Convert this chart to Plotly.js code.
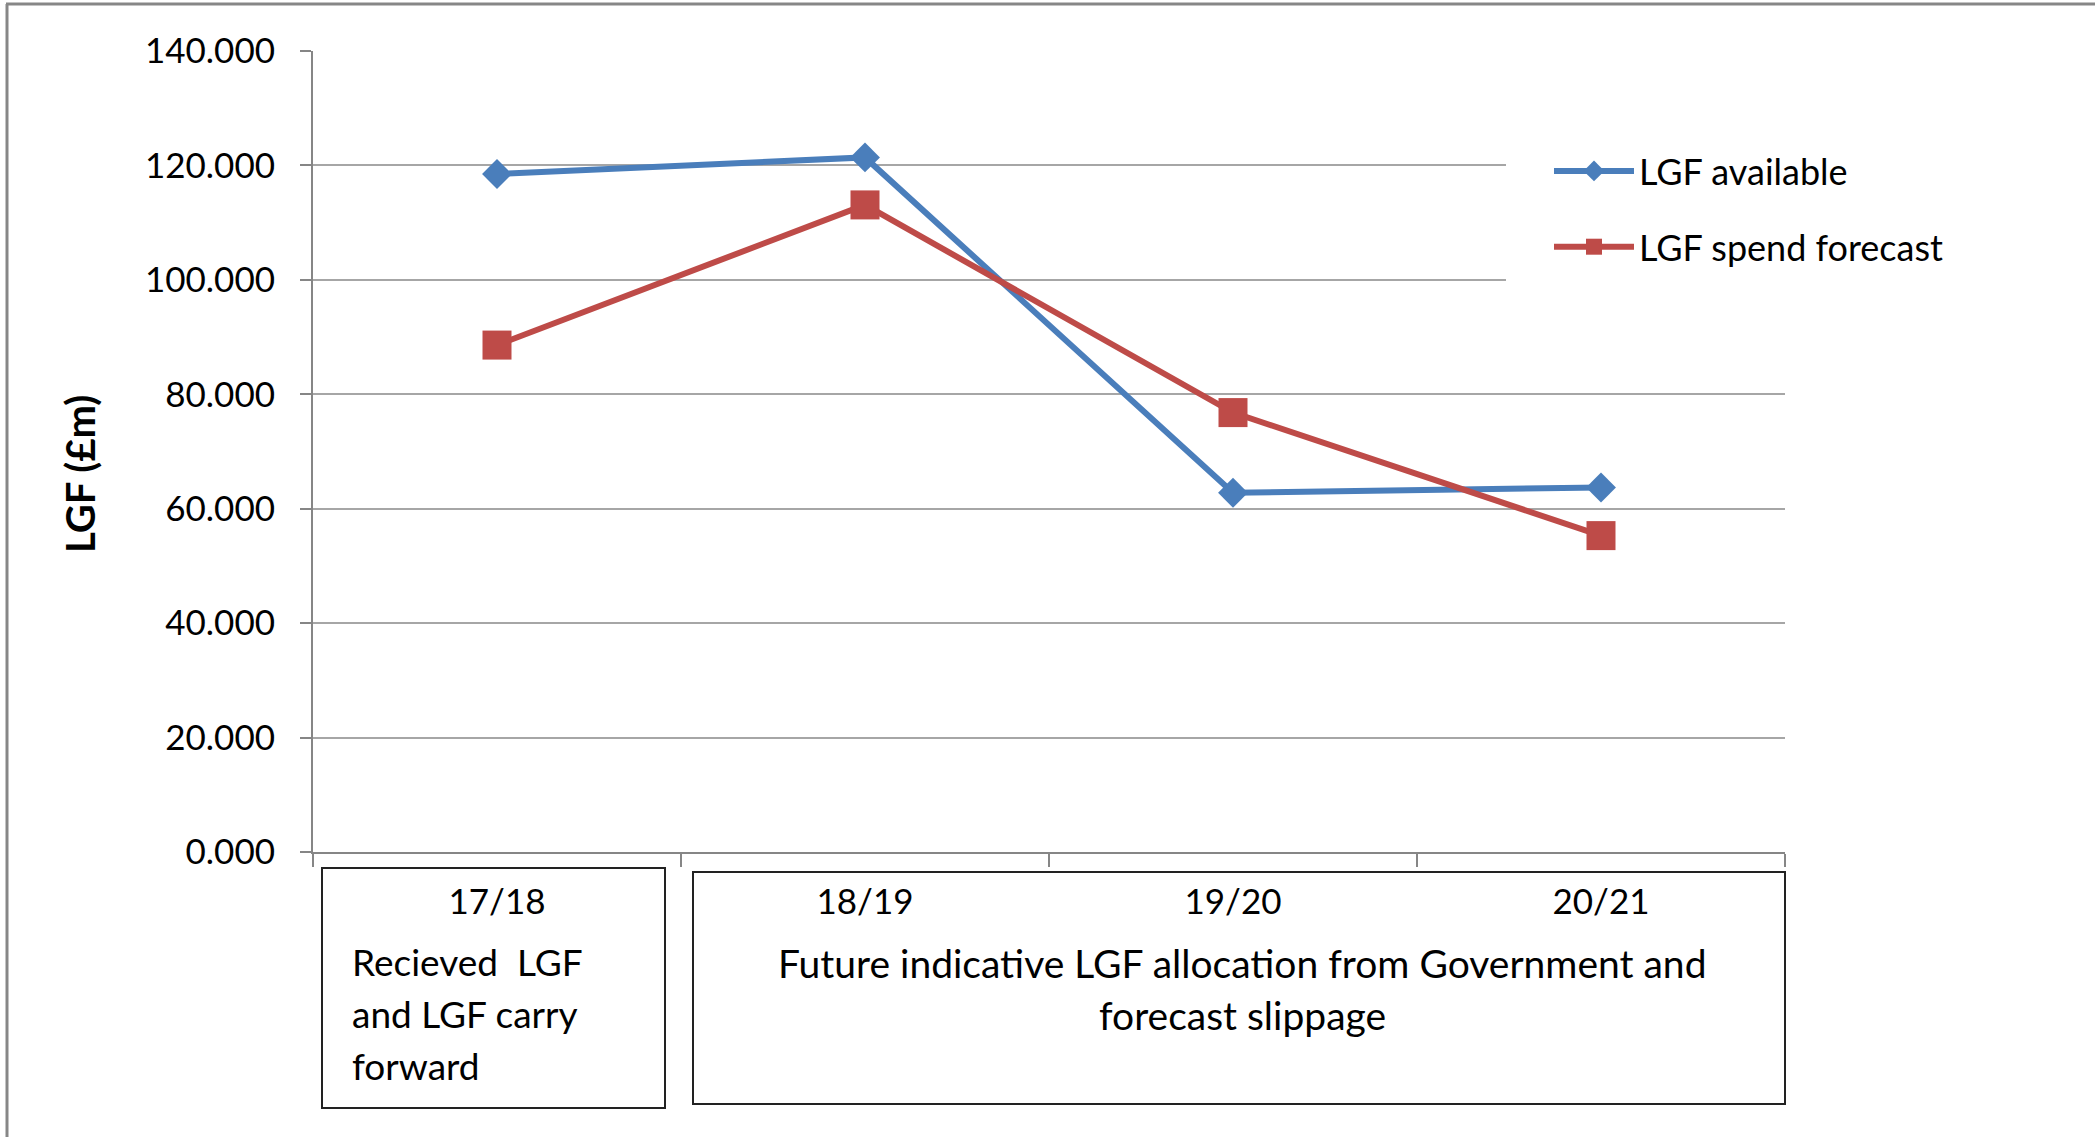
<!DOCTYPE html>
<html><head><meta charset="utf-8">
<script src="https://cdn.plot.ly/plotly-3.0.1.min.js"></script>
<style>html,body{margin:0;padding:0;background:#fff;overflow:hidden}#chart{width:2095px;height:1137px;}</style>
</head><body><div id="chart"></div>
<script>
// ---- data ----
const categories = ['17/18', '18/19', '19/20', '20/21'];
const lgfAvailable = [118.5, 121.4, 62.8, 63.7];
const lgfSpendForecast = [88.6, 113.1, 76.8, 55.3];
const seriesNames = ['LGF available', 'LGF spend forecast'];
const yAxisTitle = 'LGF (£m)';
const box1Lines = ['Recieved\u00a0 LGF', 'and LGF carry', 'forward'];
const box2Lines = ['Future indicative LGF allocation from Government and', 'forecast slippage'];

// ---- layout geometry (pixels) ----
const W = 2095, H = 1137, L = 313, R = 1785, T = 51, B = 852;
const pw = R - L, ph = B - T;
const px = x => (x - L) / pw;
const py = y => (B - y) / ph;
const FONT = 'Lato, "Open Sans", sans-serif';
const GRID = '#a6a6a6', AXIS = '#868686';
const BLUE = '#4A7EBB', RED = '#BE4B48';

const traces = [
  {x: categories, y: lgfAvailable, name: seriesNames[0], type: 'scatter', mode: 'lines+markers',
   legendgroup: 'a', line: {color: BLUE, width: 6}, marker: {symbol: 'diamond', size: 23, color: BLUE}},
  {x: categories, y: lgfSpendForecast, name: seriesNames[1], type: 'scatter', mode: 'lines+markers',
   legendgroup: 'b', line: {color: RED, width: 6}, marker: {symbol: 'square', size: 29, color: RED}}
];

const annotations = [
  {xref: 'paper', yref: 'paper', x: px(80), y: py(474), text: '<b>' + yAxisTitle + '</b>', textangle: -90,
   showarrow: false, xanchor: 'center', yanchor: 'middle', font: {family: FONT, size: 40, color: '#000'}}
];
const box1Y = [961, 1013, 1065];
box1Lines.forEach((t, i) => annotations.push({xref: 'paper', yref: 'paper', x: px(350), y: py(box1Y[i]), text: t,
  showarrow: false, xanchor: 'left', yanchor: 'middle', font: {family: FONT, size: 37, color: '#000'}}));
const box2Y = [963, 1015];
box2Lines.forEach((t, i) => annotations.push({xref: 'paper', yref: 'paper', x: px(1242), y: py(box2Y[i]), text: t,
  showarrow: false, xanchor: 'center', yanchor: 'middle', font: {family: FONT, size: 39, color: '#000'}}));

const shapes = [
  {type: 'rect', xref: 'paper', yref: 'paper', x0: px(1506), x1: px(1792), y0: py(110), y1: py(300),
   fillcolor: '#fff', line: {width: 0}, layer: 'above'},
  {type: 'rect', xref: 'paper', yref: 'paper', x0: px(322), x1: px(665), y0: py(868), y1: py(1108),
   line: {color: '#222', width: 2}},
  {type: 'rect', xref: 'paper', yref: 'paper', x0: px(693), x1: px(1785), y0: py(872), y1: py(1104),
   line: {color: '#222', width: 2}},
  {type: 'line', xref: 'paper', yref: 'paper', x0: px(7), x1: px(7), y0: py(4), y1: py(1150),
   line: {color: '#878787', width: 3}},
  {type: 'line', xref: 'paper', yref: 'paper', x0: px(6), x1: px(2100), y0: py(4), y1: py(4),
   line: {color: '#878787', width: 3}}
];

const layout = {
  width: W, height: H,
  margin: {l: L, r: W - R, t: T, b: H - B},
  paper_bgcolor: '#fff', plot_bgcolor: '#fff',
  font: {family: FONT, color: '#000'},
  showlegend: true,
  legend: {x: px(1549), xanchor: 'left', y: py(141), yanchor: 'top', bgcolor: 'rgba(0,0,0,0)',
    font: {family: FONT, size: 36, color: '#000'}, itemwidth: 80, tracegroupgap: 26},
  xaxis: {type: 'category', range: [-0.5, 3.5], tickson: 'boundaries', ticks: 'outside', ticklen: 13,
    tickcolor: AXIS, tickwidth: 2, showline: true, linecolor: AXIS, linewidth: 2, showgrid: false,
    zeroline: false, tickfont: {family: FONT, size: 35, color: '#000'}, ticklabelstandoff: 18, fixedrange: true},
  yaxis: {range: [0, 140], dtick: 20, tick0: 0, tickformat: '.3f', ticks: 'outside', ticklen: 11,
    tickcolor: AXIS, tickwidth: 2, showline: true, linecolor: AXIS, linewidth: 2, showgrid: true,
    gridcolor: GRID, gridwidth: 2, zeroline: false, tickfont: {family: FONT, size: 35, color: '#000'},
    ticklabelstandoff: 18, fixedrange: true},
  shapes: shapes,
  annotations: annotations
};

Plotly.newPlot('chart', traces, layout, {displayModeBar: false, staticPlot: true});
</script>
</body></html>
